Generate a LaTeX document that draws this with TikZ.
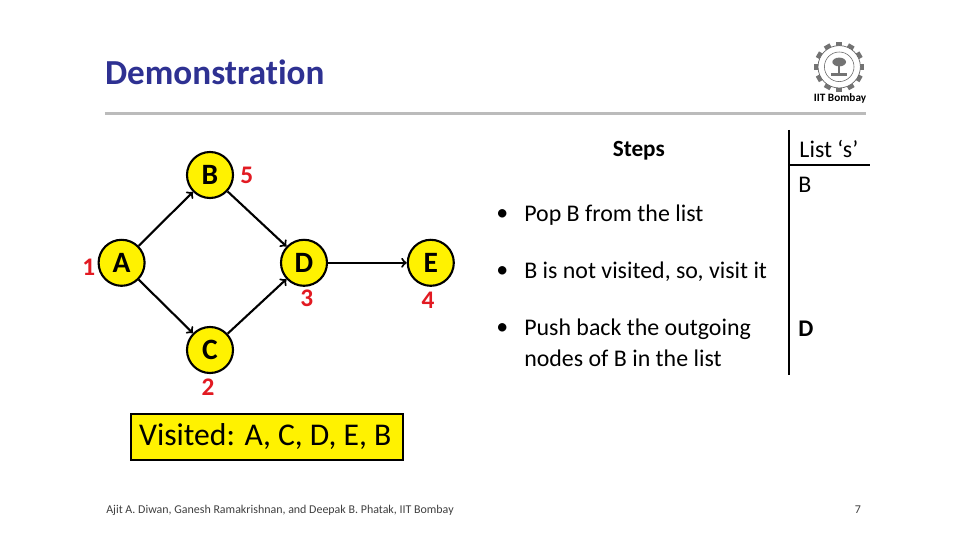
\documentclass[tikz,border=0pt]{standalone}
\usepackage{fontspec}
\setmainfont{Carlito}
\usepackage{tikz}
\usetikzlibrary{shapes,arrows,positioning,calc}
\definecolor{titleblue}{RGB}{46,49,146}
\definecolor{rulegray}{RGB}{187,187,187}
\definecolor{numred}{RGB}{226,26,34}
\tikzstyle{vnode} = [circle, draw, fill=yellow, line width=1.5pt, minimum size=1.15cm, inner sep=0pt, font=\fontsize{21}{21}\selectfont\bfseries]
\tikzstyle{line} = [draw, ->, >=to, line width=1.5pt]
\tikzstyle{num} = [text=numred, inner sep=0pt, font=\fontsize{18}{18}\selectfont\bfseries]
\tikzstyle{txt} = [anchor=west, inner sep=0pt, font=\fontsize{17}{17}\selectfont]
\tikzstyle{rule} = [draw, line width=1.1pt]
\tikzstyle{foot} = [inner sep=0pt, text=black!75, font=\fontsize{8.5}{8.5}\selectfont]
\begin{document}
\begin{tikzpicture}
	\useasboundingbox [fill=white] (0,0) rectangle (24,13.5);

	\node [anchor=west, inner sep=0pt, text=titleblue, font=\fontsize{25}{25}\selectfont\bfseries] (title) at (2.62,11.7) {Demonstrat\kern0pt ion};
	\draw [rulegray, line width=2.2pt] (2.62,10.67) -- (21.65,10.67);

	% logo
	\coordinate (logo) at (20.98,11.83);
	\foreach \a in {0,30,...,330}
		\fill [black!55, rotate around={\a:(logo)}] ($(logo)+(-0.08,0.5)$) rectangle ($(logo)+(0.08,0.63)$);
	\draw [black!60, line width=0.5pt, fill=white] (logo) circle (0.53);
	\draw [black!60, line width=0.4pt] (logo) circle (0.37);
	\fill [black!55] ($(logo)+(-0.2,-0.22)$) rectangle ($(logo)+(0.2,-0.15)$);
	\fill [black!55] ($(logo)+(-0.03,-0.15)$) rectangle ($(logo)+(0.03,0.05)$);
	\fill [black!55] ($(logo)+(0,0.12)$) ellipse (0.17 and 0.11);
	\node [inner sep=0pt, font=\fontsize{8}{8}\selectfont\bfseries] (iit) at (21,11.03) {IIT Bombay};

	\node [vnode, label={[num, label distance=0.05cm, yshift=-0.1cm]left:{1}}] (a) at (3.04,6.93) {A};
	\node [vnode, label={[num, label distance=0.15cm]right:{5}}] (b) at (5.25,9.125) {B};
	\node [vnode, label={[num, label distance=0.12cm, xshift=-0.05cm]below:{2}}] (c) at (5.25,4.75) {C};
	\node [vnode, label={[num, label distance=0.08cm, xshift=0.07cm]below:{3}}] (d) at (7.6,6.93) {D};
	\node [vnode, label={[num, label distance=0.12cm, xshift=-0.07cm]below:{4}}] (e) at (10.77,6.93) {E};

	\path [line] (a) -- (b);
	\path [line] (a) -- (c);
	\path [line] (b) -- (d);
	\path [line] (c) -- (d);
	\path [line] (d) -- (e);

	\node [draw, fill=yellow, line width=1.4pt, minimum width=6.8cm, minimum height=1.15cm, inner sep=0pt, font=\fontsize{22.5}{22.5}\selectfont] (visited) at (6.68,2.58) {\hspace{-0.1cm}Visited: A, C, D, E, B\hspace{0.1cm}};

	\node [inner sep=0pt, font=\fontsize{16.5}{16.5}\selectfont\bfseries] (steps) at (15.97,9.72) {Steps};
	\node [txt] (b1) at (12.4,8.12) {\textbullet};
	\node [txt] (t1) at (13.1,8.12) {Pop B from the list};
	\node [txt] (b2) at (12.4,6.7) {\textbullet};
	\node [txt] (t2) at (13.1,6.7) {B is not visited, so, visit it};
	\node [txt] (b3) at (12.4,5.27) {\textbullet};
	\node [txt] (t3) at (13.1,5.27) {Push back the outgoing};
	\node [txt] (t4) at (13.1,4.55) {nodes of B in the list};

	\coordinate (top) at (19.72,10.25);
	\coordinate (bot) at (19.72,4.12);
	\coordinate (hl) at (19.72,9.37);
	\coordinate (hr) at (21.75,9.37);
	\path [rule] (top) -- (bot);
	\path [rule] (hl) -- (hr);
	\node [txt] (list) at (19.98,9.77) {List ‘s’};
	\node [txt] (s1) at (19.95,8.87) {B};
	\node [txt, font=\fontsize{17}{17}\selectfont\bfseries] (s2) at (19.95,5.28) {D};

	\node [foot, anchor=west] (credit) at (2.65,0.75) {Ajit A. Diwan, Ganesh Ramakrishnan, and Deepak B. Phatak, IIT Bombay};
	\node [foot] (page) at (21.45,0.75) {7};
\end{tikzpicture}
\end{document}
